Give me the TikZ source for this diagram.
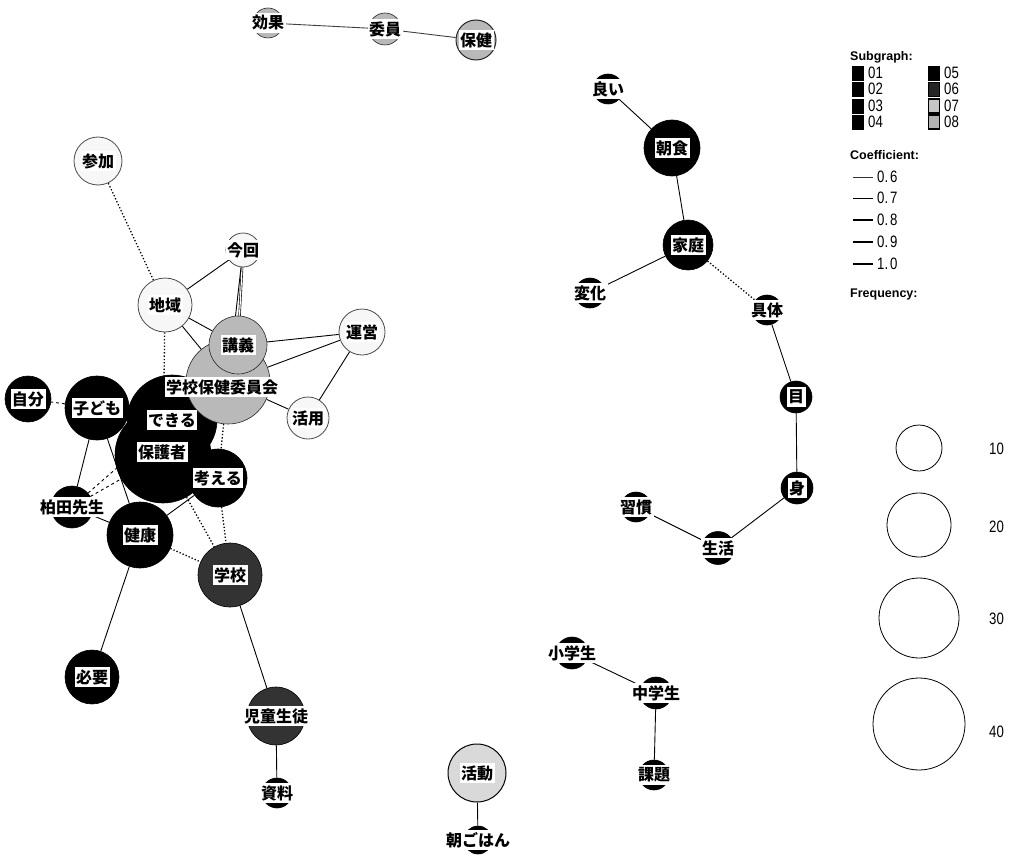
\documentclass[tikz,border=0pt]{standalone}
\usepackage{fontspec}
\setmainfont{Liberation Sans}
\newfontfamily\jp{Noto Sans CJK JP}
\newfontfamily\legn[FakeStretch=0.8]{Liberation Sans}
\usetikzlibrary{backgrounds}
\tikzset{
  circ/.style={circle, inner sep=0pt, draw=black, line width=0.6pt},
  blk/.style={circ, fill=black},
  dk/.style={circ, fill=black!80},
  md/.style={circ, fill=gray!55, draw=black!85},
  lt/.style={circ, fill=gray!30, draw=black, line width=1pt},
  wt/.style={circ, fill=gray!6, draw=black!70, line width=0.8pt},
  lab/.style={fill=white, inner xsep=1.5pt, inner ysep=2.5pt, font=\jp\bfseries\fontsize{16}{18}\selectfont, text=black},
  ed/.style={line width=0.9pt, black},
  dt/.style={line width=1.3pt, dotted, black},
  ds/.style={line width=0.9pt, dashed, black},
  sq/.style={minimum width=11pt, minimum height=14pt, inner sep=0pt, draw=black, fill=black},
  legt/.style={anchor=west, font=\legn\fontsize{16.5}{18}\selectfont, inner sep=0pt},
  legh/.style={anchor=west, font=\bfseries\fontsize{12.5}{14}\selectfont, inner sep=0pt},
  fc/.style={circle, draw=black, line width=0.8pt, inner sep=0pt}
}
\begin{document}
\begin{tikzpicture}[x=1pt,y=-1pt]
\useasboundingbox (0,0) rectangle (1016,861);

% ---------- nodes (circles) ----------
\node[md, minimum size=30pt] (kouka) at (268,23) {};
\node[md, minimum size=32pt] (iin) at (385,29) {};
\node[md, minimum size=40pt, line width=1pt] (hoken) at (476,40) {};
\node[wt, minimum size=48pt] (sanka) at (98,161) {};
\node[wt, minimum size=34pt] (konkai) at (243,250) {};
\node[wt, minimum size=54pt] (chiiki) at (165,305) {};
\node[wt, minimum size=46pt] (unei) at (362,332) {};
\node[wt, minimum size=42pt] (katsuyou) at (308,418) {};

\node[blk, minimum size=46pt] (jibun) at (28,399) {};
\node[blk, minimum size=64pt] (kodomo) at (97,408) {};
\node[blk, minimum size=90pt] (dekiru) at (172,420) {};
\node[blk, minimum size=96pt] (hogosha) at (163,455) {};
\node[blk, minimum size=58pt] (kangaeru) at (218,478) {};
\node[blk, minimum size=42pt] (kashiwada) at (72,507) {};
\node[blk, minimum size=66pt] (kenkou) at (140,535) {};
\node[dk, minimum size=64pt] (gakkou) at (230,575) {};
\node[blk, minimum size=54pt] (hitsuyou) at (92,677) {};
\node[dk, minimum size=58pt] (jidou) at (276,716) {};
\node[blk, minimum size=30pt] (shiryou) at (277,793) {};

\node[md, minimum size=84pt] (iinkai) at (228,382) {};
\node[md, minimum size=58pt] (kougi) at (238,345) {};

\node[lt, minimum size=58pt] (katsudou) at (477,773) {};
\node[blk, minimum size=28pt] (asagohan) at (478,840) {};
\node[blk, minimum size=32pt] (shougaku) at (572,653) {};
\node[blk, minimum size=32pt] (chuugaku) at (656,693) {};
\node[blk, minimum size=30pt] (kadai) at (654,775) {};

\node[blk, minimum size=30pt] (yoi) at (608,89) {};
\node[blk, minimum size=56pt] (choushoku) at (672,148) {};
\node[blk, minimum size=50pt] (katei) at (688,245) {};
\node[blk, minimum size=30pt] (henka) at (590,293) {};
\node[blk, minimum size=30pt] (gutai) at (767,310) {};
\node[blk, minimum size=32pt] (me) at (796,397) {};
\node[blk, minimum size=32pt] (mi) at (797,488) {};
\node[blk, minimum size=30pt] (shuukan) at (636,507) {};
\node[blk, minimum size=33pt] (seikatsu) at (718,548) {};

% ---------- labels ----------
\node[lab] (kouka-t) at (kouka) {効果};
\node[lab] (iin-t) at (iin) {委員};
\node[lab] (hoken-t) at (hoken) {保健};
\node[lab] (sanka-t) at (sanka) {参加};
\node[lab] (konkai-t) at (konkai) {今回};
\node[lab] (chiiki-t) at (chiiki) {地域};
\node[lab] (unei-t) at (unei) {運営};
\node[lab] (katsuyou-t) at (katsuyou) {活用};
\node[lab] (jibun-t) at (jibun) {自分};
\node[lab] (kodomo-t) at (kodomo) {子ども};
\node[lab] (dekiru-t) at (dekiru) {できる};
\node[lab] (hogosha-t) at (162,452) {保護者};
\node[lab] (kangaeru-t) at (kangaeru) {考える};
\node[lab] (kashiwada-t) at (kashiwada) {柏田先生};
\node[lab] (kenkou-t) at (kenkou) {健康};
\node[lab] (gakkou-t) at (gakkou) {学校};
\node[lab] (hitsuyou-t) at (hitsuyou) {必要};
\node[lab] (jidou-t) at (jidou) {児童生徒};
\node[lab] (shiryou-t) at (shiryou) {資料};
\node[lab] (kougi-t) at (kougi) {講義};
\node[lab] (iinkai-t) at (222,387) {学校保健委員会};
\node[lab] (katsudou-t) at (katsudou) {活動};
\node[lab] (asagohan-t) at (asagohan) {朝ごはん};
\node[lab] (shougaku-t) at (shougaku) {小学生};
\node[lab] (chuugaku-t) at (chuugaku) {中学生};
\node[lab] (kadai-t) at (kadai) {課題};
\node[lab] (yoi-t) at (yoi) {良い};
\node[lab] (choushoku-t) at (choushoku) {朝食};
\node[lab] (katei-t) at (katei) {家庭};
\node[lab] (henka-t) at (henka) {変化};
\node[lab] (gutai-t) at (gutai) {具体};
\node[lab] (me-t) at (me) {目};
\node[lab] (mi-t) at (mi) {身};
\node[lab] (shuukan-t) at (shuukan) {習慣};
\node[lab] (seikatsu-t) at (seikatsu) {生活};

% ---------- edges ----------
\begin{pgfonlayer}{background}
\draw[ed, black!75] (kouka) -- (iin);
\draw[ed, black!75] (iin) -- (hoken);
\draw[ed] (yoi) -- (choushoku);
\draw[ed] (choushoku) -- (katei);
\draw[ed] (katei) -- (henka);
\draw[dt] (katei) -- (gutai);
\draw[ed] (gutai) -- (me);
\draw[ed] (me) -- (mi);
\draw[ed] (mi) -- (seikatsu);
\draw[ed] (shuukan) -- (seikatsu);
\draw[ed] (shougaku) -- (chuugaku);
\draw[ed] (chuugaku) -- (kadai);
\draw[ed] (katsudou) -- (asagohan);
\draw[ed] (jidou) -- (shiryou);
\draw[ed] (gakkou) -- (jidou);
\draw[ed] (kenkou) -- (hitsuyou);
\draw[dt] (kenkou) -- (gakkou);
\draw[dt] (hogosha) -- (gakkou);
\draw[dt] (kangaeru) -- (gakkou);
\draw[ed] (kenkou) -- (kangaeru);
\draw[ed] (kodomo) -- (kashiwada);
\draw[ed] (kodomo) -- (kenkou);
\draw[ds] (kashiwada) -- (hogosha);
\draw[ds] (kashiwada) -- (dekiru);
\draw[ed] (kashiwada) -- (kenkou);
\draw[ds] (kodomo) -- (jibun);
\draw[dt] (chiiki) -- (sanka);
\draw[ed] (chiiki) -- (konkai);
\draw[ed] (chiiki) -- (kougi);
\draw[ed] (chiiki) -- (iinkai);
\draw[dt] (chiiki) -- (hogosha);
\draw[ed, double, double distance=1.2pt, line width=0.6pt] (konkai) -- (kougi);
\draw[ed] (konkai) -- (iinkai);
\draw[ed] (kougi) -- (unei);
\draw[ed] (iinkai) -- (unei);
\draw[ed] (unei) -- (katsuyou);
\draw[ed] (iinkai) -- (katsuyou);
\draw[dt] (iinkai) -- (kangaeru);
\end{pgfonlayer}

% ---------- legend ----------
\node[legh] (sgh) at (850,57) {Subgraph:};
\node[sq] (s1) at (858,73) {};
\node[sq] (s2) at (858,89) {};
\node[sq] (s3) at (858,106) {};
\node[sq] (s4) at (858,122) {};
\node[sq] (s5) at (934,73) {};
\node[sq, fill=black!85] (s6) at (934,89) {};
\node[sq, fill=gray!45, line width=1.5pt] (s7) at (934,106) {};
\node[sq, fill=gray!60, draw=black, line width=1.5pt] (s8) at (934,122) {};
\node[legt] (t1) at (868,73) {01};
\node[legt] (t2) at (868,89) {02};
\node[legt] (t3) at (868,106) {03};
\node[legt] (t4) at (868,122) {04};
\node[legt] (t5) at (944,73) {05};
\node[legt] (t6) at (944,89) {06};
\node[legt] (t7) at (944,106) {07};
\node[legt] (t8) at (944,122) {08};

\node[legh] (coh) at (850,155) {Coefficient:};
\coordinate (c6a) at (853,177); \coordinate (c6b) at (873,177);
\coordinate (c7a) at (853,198); \coordinate (c7b) at (873,198);
\coordinate (c8a) at (853,220); \coordinate (c8b) at (873,220);
\coordinate (c9a) at (853,242); \coordinate (c9b) at (873,242);
\coordinate (c10a) at (853,264); \coordinate (c10b) at (873,264);
\draw[line width=0.6pt, black!80] (c6a) -- (c6b);
\draw[line width=0.9pt] (c7a) -- (c7b);
\draw[line width=1.2pt] (c8a) -- (c8b);
\draw[line width=1.5pt] (c9a) -- (c9b);
\draw[line width=1.9pt] (c10a) -- (c10b);
\node[legt] (l6) at (877,177) {0.\kern2pt 6};
\node[legt] (l7) at (877,198) {0.\kern2pt 7};
\node[legt] (l8) at (877,220) {0.\kern2pt 8};
\node[legt] (l9) at (877,242) {0.\kern2pt 9};
\node[legt] (l10) at (877,264) {1.\kern2pt 0};

\node[legh] (frh) at (850,294) {Frequency:};
\node[fc, minimum size=46pt] (f10) at (919,448) {};
\node[fc, minimum size=64pt] (f20) at (919,525) {};
\node[fc, minimum size=80pt] (f30) at (919,618) {};
\node[fc, minimum size=92pt] (f40) at (919,724) {};
\node[legt] (n10) at (989,449) {10};
\node[legt] (n20) at (989,527) {20};
\node[legt] (n30) at (989,619) {30};
\node[legt] (n40) at (989,732) {40};
\end{tikzpicture}
\end{document}
